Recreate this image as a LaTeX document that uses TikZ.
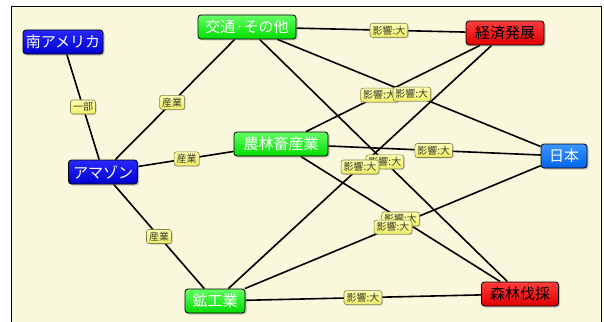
\documentclass[tikz,border=0pt]{standalone}
\usepackage{fontspec}
\newfontfamily\cjk{Noto Sans CJK JP}
\usetikzlibrary{calc,shadows}
\definecolor{cream}{RGB}{250,248,220}
\definecolor{gtop}{RGB}{100,255,100}
\definecolor{gbot}{RGB}{0,220,0}
\definecolor{btop}{RGB}{40,40,255}
\definecolor{bbot}{RGB}{0,0,205}
\definecolor{jtop}{RGB}{60,150,255}
\definecolor{jbot}{RGB}{0,100,235}
\definecolor{rtop}{RGB}{255,60,60}
\definecolor{rbot}{RGB}{225,0,0}
\definecolor{ltop}{RGB}{255,255,180}
\definecolor{lbot}{RGB}{238,238,105}
\definecolor{ldraw}{RGB}{130,130,70}
\definecolor{ltext}{RGB}{60,60,40}
\pgfdeclarelayer{bg}
\pgfdeclarelayer{edges}
\pgfsetlayers{bg,edges,main}
\begin{document}
\begin{tikzpicture}[x=1pt,y=-1pt,
  box/.style={rounded corners=3pt, draw=black, line width=0.8pt,
    minimum height=24pt, inner xsep=0pt, inner ysep=0pt,
    font=\cjk\fontsize{15}{17}\selectfont,
    drop shadow={shadow xshift=1.5pt, shadow yshift=-1.5pt, opacity=0.45}},
  gbox/.style={box, top color=gtop, bottom color=gbot, text=white},
  bbox/.style={box, top color=btop, bottom color=bbot, text=white},
  jbox/.style={box, top color=jtop, bottom color=jbot, text=white},
  rbox/.style={box, top color=rtop, bottom color=rbot, text=black},
  lbl/.style={rounded corners=2.5pt, draw=ldraw, line width=0.6pt,
    top color=ltop, bottom color=lbot, text=ltext,
    font=\cjk\fontsize{10}{12}\selectfont,
    inner xsep=2.5pt, inner ysep=0pt, minimum height=14pt,
    drop shadow={shadow xshift=1pt, shadow yshift=-1pt, opacity=0.35}},
  edge/.style={line width=1.6pt, black}
]
\useasboundingbox (0,0) rectangle (604,321);
\begin{pgfonlayer}{bg}
\clip (0,0) rectangle (604,321);
\fill[white] (0,0) rectangle (604,321);
\draw[fill=cream, line width=1.5pt] (11.5,6.5) rectangle (601.5,340);
\end{pgfonlayer}

\node[bbox, minimum width=80pt] (sa) at (63,42) {南アメリカ};
\node[gbox, minimum width=98pt] (ko) at (247,27) {交通·その他};
\node[rbox, minimum width=78pt] (ke) at (505,33) {経済発展};
\node[gbox, minimum width=94pt] (no) at (281,144) {農林畜産業};
\node[bbox, minimum width=69pt] (am) at (103,172) {アマゾン};
\node[jbox, minimum width=46pt] (jp) at (564,156) {日本};
\node[gbox, minimum width=60pt] (ko2) at (215,301) {鉱工業};
\node[rbox, minimum width=77pt] (sh) at (520,294) {森林伐採};

\begin{pgfonlayer}{edges}
\draw[edge] (sa) -- (am);
\draw[edge] (ko) -- (am);
\draw[edge] (no) -- (am);
\draw[edge] (am) -- (ko2);
\draw[edge] (ko) -- (ke);
\draw[edge] (ko) -- (jp);
\draw[edge] (no) -- (ke);
\draw[edge] (ko) -- (sh);
\draw[edge] (ke) -- (ko2);
\draw[edge] (no) -- (jp);
\draw[edge] (no) -- (sh);
\draw[edge] (jp) -- (ko2);
\draw[edge] (ko2) -- (sh);
\end{pgfonlayer}

\node[lbl] (l1) at ($(sa.center)!0.5!(am.center)$) {一部};
\node[lbl] (l2) at ($(ko.center)!0.52!(am.center)$) {産業};
\node[lbl] (l3) at ($(no.center)!0.53!(am.center)$) {産業};
\node[lbl] (l4) at ($(am.center)!0.5!(ko2.center)$) {産業};
\node[lbl] (l5) at ($(ko.center)!0.55!(ke.center)$) {影響:大};
\node[lbl] (l7) at ($(no.center)!0.44!(ke.center)$) {影響:大};
\node[lbl] (l6) at ($(ko.center)!0.52!(jp.center)$) {影響:大};
\node[lbl] (l8) at ($(ko.center)!0.505!(sh.center)$) {影響:大};
\node[lbl] (l9) at ($(ke.center)!0.50!(ko2.center)$) {影響:大};
\node[lbl] (l10) at ($(no.center)!0.54!(jp.center)$) {影響:大};
\node[lbl] (l11) at ($(no.center)!0.5!(sh.center)$) {影響:大};
\node[lbl] (l12) at ($(jp.center)!0.49!(ko2.center)$) {影響:大};
\node[lbl] (l13) at ($(ko2.center)!0.485!(sh.center)$) {影響:大};
\end{tikzpicture}
\end{document}
